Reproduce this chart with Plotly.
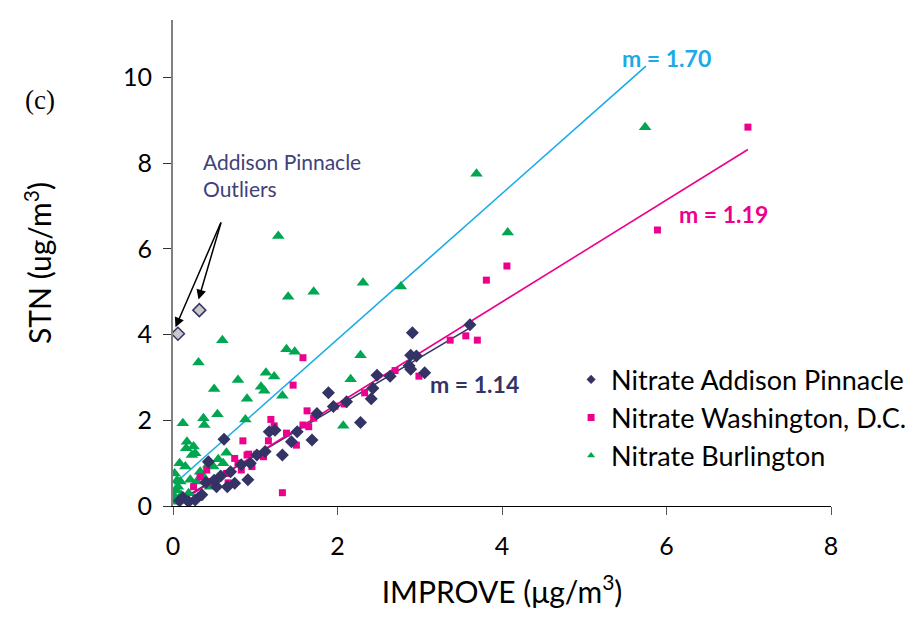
import plotly.graph_objects as go

# ---- data ----
addison_x = [0.08, 0.12, 0.19, 0.27, 0.35, 0.40, 0.43, 0.50, 0.53, 0.58, 0.62, 0.66, 0.70, 0.75, 0.83, 0.91,
             0.94, 1.02, 1.12, 1.17, 1.24, 1.33, 1.44, 1.51, 1.69, 1.75, 1.89, 1.95, 2.11, 2.28, 2.41, 2.43,
             2.48, 2.64, 2.87, 2.89, 2.89, 2.91, 2.96, 3.06, 3.61]
addison_y = [0.12, 0.20, 0.10, 0.14, 0.26, 0.55, 1.03, 0.60, 0.45, 0.70, 1.56, 0.45, 0.80, 0.53, 0.96, 0.61,
             1.00, 1.19, 1.27, 1.73, 1.77, 1.19, 1.50, 1.73, 1.54, 2.16, 2.64, 2.32, 2.43, 1.95, 2.50, 2.75,
             3.05, 3.03, 3.27, 3.19, 3.52, 4.04, 3.50, 3.11, 4.23]

outlier_x = [0.06, 0.32]
outlier_y = [4.02, 4.57]

washington_x = [0.25, 0.33, 0.41, 0.45, 0.53, 0.65, 0.67, 0.75, 0.79, 0.83, 0.85, 0.90, 0.92, 0.96, 1.02, 1.10,
                1.16, 1.19, 1.23, 1.33, 1.38, 1.46, 1.50, 1.58, 1.58, 1.63, 1.65, 1.71, 1.97, 2.08, 2.33, 2.70,
                2.99, 3.37, 3.56, 3.70, 3.81, 4.06, 5.89, 6.99]
washington_y = [0.45, 0.68, 0.84, 0.57, 0.61, 0.76, 0.54, 1.11, 1.00, 0.84, 1.52, 1.19, 1.21, 0.92, 1.21, 1.15,
                1.52, 2.02, 1.87, 0.31, 1.70, 2.82, 1.42, 3.46, 1.89, 2.22, 1.85, 2.05, 2.33, 2.38, 2.64, 3.16,
                3.03, 3.87, 3.97, 3.87, 5.27, 5.60, 6.44, 8.84]

burlington_x = [0.02, 0.02, 0.04, 0.09, 0.02, 0.08, 0.15, 0.13, 0.19, 0.21, 0.29, 0.37, 0.45, 0.33, 0.43, 0.49,
                0.55, 0.61, 0.65, 0.23, 0.27, 0.25, 0.16, 0.17, 0.12, 0.38, 0.37, 0.54, 0.88, 0.90, 0.50, 0.79,
                0.31, 0.60, 1.07, 1.11, 1.13, 1.23, 1.33, 1.38, 1.48, 1.28, 1.40, 1.71, 2.07, 2.16, 2.28, 2.31,
                2.77, 3.69, 4.07, 5.74, 0.06, 0.10, 0.05, 0.30]
burlington_y = [0.10, 0.22, 0.37, 0.57, 0.76, 1.00, 0.92, 0.14, 0.30, 0.61, 0.57, 0.68, 0.45, 0.80, 0.96, 0.92,
                1.09, 1.00, 1.24, 1.19, 1.23, 1.39, 1.35, 1.50, 1.93, 1.89, 2.05, 2.14, 2.02, 2.50, 2.73, 2.94,
                3.35, 3.87, 2.78, 2.69, 3.11, 3.02, 2.57, 3.66, 3.60, 6.30, 4.88, 5.00, 1.87, 2.96, 3.52, 5.21,
                5.12, 7.75, 6.38, 8.84, 0.45, 0.25, 0.60, 0.20]

# regression fits: slope, intercept, x-extent
fit_names = ["Addison", "Washington", "Burlington"]
fit_slope = [1.14, 1.19, 1.70]
fit_intercept = [0.04, 0.0, 0.49]
fit_xmin = [0.08, 0.10, 0.01]
fit_xmax = [3.61, 6.99, 5.75]
fit_labels = ["m = 1.14", "m = 1.19", "m = 1.70"]

x_ticks = [0, 2, 4, 6, 8]
y_ticks = [0, 2, 4, 6, 8, 10]

NAVY = "#333366"
PINK = "#EC008C"
GREEN = "#00A651"
CYAN = "#1AABE8"
FONT = "Lato"

fig = go.Figure()

fit_colors = [NAVY, PINK, CYAN]
for s, b, x0, x1, c in zip(fit_slope, fit_intercept, fit_xmin, fit_xmax, fit_colors):
    fig.add_trace(go.Scatter(x=[x0, x1], y=[s * x0 + b, s * x1 + b], mode="lines",
                             line=dict(color=c, width=1.6), showlegend=False, hoverinfo="skip"))

fig.add_trace(go.Scatter(x=burlington_x, y=burlington_y, mode="markers", showlegend=False,
                         marker=dict(symbol="triangle-up", size=11, color=GREEN, line=dict(width=0))))
fig.add_trace(go.Scatter(x=washington_x, y=washington_y, mode="markers", showlegend=False,
                         marker=dict(symbol="square", size=7, color=PINK, line=dict(width=0))))
fig.add_trace(go.Scatter(x=addison_x, y=addison_y, mode="markers", showlegend=False,
                         marker=dict(symbol="diamond", size=10, color=NAVY, line=dict(width=0))))
fig.add_trace(go.Scatter(x=outlier_x, y=outlier_y, mode="markers", showlegend=False,
                         marker=dict(symbol="diamond", size=10, color="#C8C8CC",
                                     line=dict(width=1.5, color=NAVY))))

# legend-only entries (small symbols as in the reference)
legend_names = ["Nitrate Addison Pinnacle", "Nitrate Washington, D.C.", "Nitrate Burlington"]
legend_symbols = ["diamond", "square", "triangle-up"]
legend_colors = [NAVY, PINK, GREEN]
for n, sy, c in zip(legend_names, legend_symbols, legend_colors):
    fig.add_trace(go.Scatter(x=[None], y=[None], mode="markers", name=n,
                             marker=dict(symbol=sy, size=7, color=c)))

# slope labels
label_pos_x = [3.67, 6.69, 6.0]
label_pos_y = [2.85, 6.81, 10.45]
for t, lx, ly, c in zip(fit_labels, label_pos_x, label_pos_y, fit_colors):
    fig.add_annotation(x=lx, y=ly, text="<b>" + t + "</b>", showarrow=False, xanchor="center",
                       yanchor="middle", font=dict(family=FONT, size=23, color=c))

# outlier annotation + arrows
fig.add_annotation(x=0.34, y=7.72, text="Addison Pinnacle<br>Outliers", showarrow=False,
                   xanchor="left", yanchor="middle", align="left",
                   font=dict(family=FONT, size=21, color="#41417A"))
fig.add_annotation(x=outlier_x[0] - 0.03, y=outlier_y[0] + 0.15, ax=0.59, ay=6.65, axref="x", ayref="y",
                   xref="x", yref="y", showarrow=True, arrowhead=2, arrowsize=1.3, arrowwidth=1.5,
                   arrowcolor="black", text="")
fig.add_annotation(x=outlier_x[1] - 0.01, y=outlier_y[1] + 0.25, ax=0.59, ay=6.65, axref="x", ayref="y",
                   xref="x", yref="y", showarrow=True, arrowhead=2, arrowsize=1.3, arrowwidth=1.5,
                   arrowcolor="black", text="")

fig.add_annotation(xref="paper", yref="paper", x=-0.202, y=0.835, text="(c)", showarrow=False,
                   xanchor="center", yanchor="middle",
                   font=dict(family="Liberation Serif", size=27, color="black"))

fig.update_layout(
    width=919, height=622,
    margin=dict(l=173, r=88, t=20, b=116, autoexpand=False),
    plot_bgcolor="white", paper_bgcolor="white",
    font=dict(family=FONT, color="black"),
    legend=dict(x=0.605, y=0.31, xanchor="left", yanchor="top", bgcolor="rgba(0,0,0,0)",
                font=dict(family=FONT, size=27, color="black"), tracegroupgap=0,
                itemwidth=30),
    xaxis=dict(range=[0, 8], tickvals=x_ticks, showgrid=False, zeroline=False,
               showline=True, linecolor="black", linewidth=1, ticks="outside", ticklen=8,
               tickcolor="#555555", tickfont=dict(family=FONT, size=25), ticklabelstandoff=10,
               title=dict(text="IMPROVE (μg/m<sup>3</sup>)", font=dict(family=FONT, size=30), standoff=22)),
    yaxis=dict(range=[0, 11.34], tickvals=y_ticks, showgrid=False, zeroline=False,
               showline=True, linecolor="#808080", linewidth=2, ticks="outside", ticklen=8,
               tickcolor="#333333", tickfont=dict(family=FONT, size=25), ticklabelstandoff=6,
               title=dict(text="STN (ug/m<sup>3</sup>)", font=dict(family=FONT, size=30), standoff=62)),
)

fig.write_html("out.html")
